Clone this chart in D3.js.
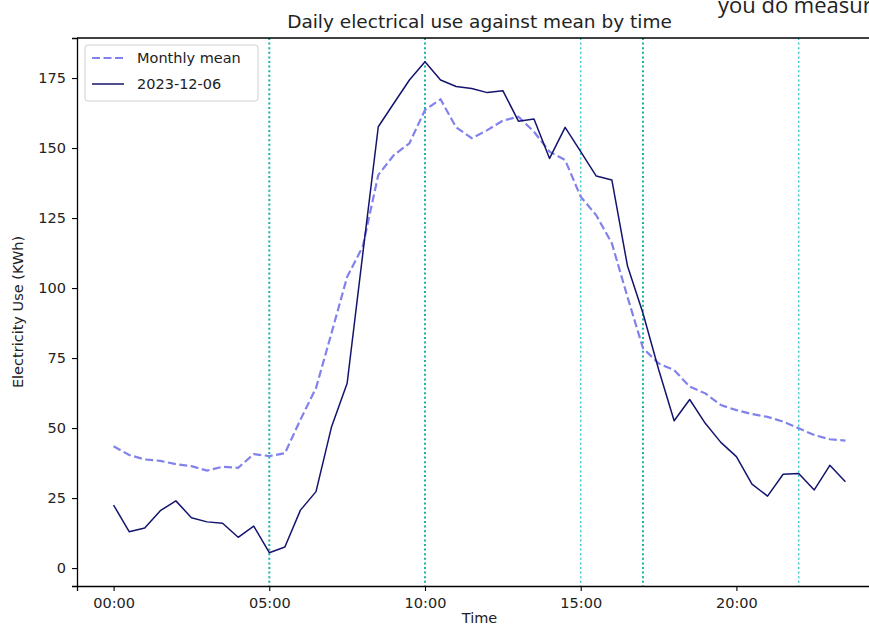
<!DOCTYPE html>
<html>
<head>
<meta charset="utf-8">
<script src="https://cdn.jsdelivr.net/npm/d3@7.9.0/dist/d3.min.js"></script>
<style>
  html, body { margin: 0; padding: 0; background: #fff; }
  svg { display: block; font-family: "DejaVu Sans", sans-serif; }
</style>
</head>
<body>
<svg id="chart" width="869" height="626"></svg>
<script>
// half-hourly readings, hours from midnight
const hours = d3.range(48).map(i => i / 2);

const monthlyMean = [
  43.5, 40.4, 38.8, 38.3, 37.1, 36.4, 34.8, 36.2, 35.8, 40.7, 40.0, 41.0,
  53.0, 64.3, 84.0, 104.0, 114.8, 140.4, 147.5, 151.7, 163.6, 167.4, 157.4, 153.5,
  156.4, 159.8, 161.2, 155.8, 148.7, 145.7, 132.6, 126.0, 116.0, 96.9, 78.5, 73.1,
  70.7, 64.8, 62.4, 58.2, 56.4, 55.0, 54.0, 52.3, 49.9, 47.5, 46.0, 45.5
];

const dayUse = [
  22.5, 13.0, 14.3, 20.5, 24.0, 18.0, 16.5, 16.0, 11.0, 15.0, 5.5, 7.5,
  20.7, 27.3, 50.5, 66.0, 112.0, 157.6, 166.0, 174.3, 180.8, 174.3, 172.0, 171.3,
  169.8, 170.5, 159.6, 160.4, 146.3, 157.4, 148.7, 140.0, 138.6, 108.0, 91.0, 71.0,
  52.6, 60.2, 51.7, 44.9, 39.8, 30.0, 25.7, 33.5, 33.8, 27.9, 36.7, 30.8
];

const markerHours = [5, 10, 15, 17, 22];
const strongMarkers = [5, 10, 17];

const xTicks = [0, 5, 10, 15, 20];
const yTicks = [0, 25, 50, 75, 100, 125, 150, 175];

const seriesNames = ["Monthly mean", "2023-12-06"];

const svg = d3.select("#chart");
const plotLeft = 77, plotRight = 882, plotTop = 38, plotBottom = 586;

const x = d3.scaleLinear().domain([-1.175, 24.675]).range([plotLeft, plotRight]);
const y = d3.scaleLinear().domain([-6.4, 189.3]).range([plotBottom, plotTop]);

// stray caption, cut off at the top and right edges as in the screenshot
svg.append("text")
  .attr("x", 718).attr("y", 13)
  .attr("font-family", "'Open Sans', sans-serif")
  .attr("font-size", 22).attr("fill", "#222")
  .text("you do measure");

const plot = svg.append("g");

// time markers
markerHours.forEach(h => {
  const strong = strongMarkers.includes(h);
  plot.append("line")
    .attr("x1", x(h)).attr("x2", x(h))
    .attr("y1", plotTop).attr("y2", plotBottom)
    .attr("stroke", strong ? "#19b3a6" : "#3cc8cc")
    .attr("stroke-width", strong ? 2 : 1.5)
    .attr("stroke-dasharray", "2,2.6");
});

const line = d3.line().x((d, i) => x(hours[i])).y(d => y(d));

plot.append("path")
  .attr("d", line(monthlyMean))
  .attr("fill", "none")
  .attr("stroke", "#8282ec")
  .attr("stroke-width", 2.2)
  .attr("stroke-dasharray", "8,3.5");

plot.append("path")
  .attr("d", line(dayUse))
  .attr("fill", "none")
  .attr("stroke", "#14146e")
  .attr("stroke-width", 1.5)
  .attr("stroke-linejoin", "round");

// axes
const fmt = h => String(h).padStart(2, "0") + ":00";
const xAxis = svg.append("g")
  .attr("transform", `translate(0,${plotBottom})`)
  .call(d3.axisBottom(x).tickValues(xTicks).tickFormat(fmt).tickSizeOuter(0).tickSize(5).tickPadding(7));
const yAxis = svg.append("g")
  .attr("transform", `translate(${plotLeft},0)`)
  .call(d3.axisLeft(y).tickValues(yTicks).tickSizeOuter(0).tickSize(5).tickPadding(6));

[xAxis, yAxis].forEach(a => {
  a.select(".domain").attr("stroke", "#000").attr("stroke-width", 1.3);
  a.selectAll(".tick line").attr("stroke", "#000").attr("stroke-width", 1.1);
  a.selectAll(".tick text")
    .attr("font-family", "DejaVu Sans, sans-serif")
    .attr("font-size", 14.5).attr("fill", "#222");
});

// top spine
svg.append("line")
  .attr("x1", plotLeft).attr("x2", plotRight).attr("y1", plotTop).attr("y2", plotTop)
  .attr("stroke", "#000").attr("stroke-width", 1.3);

// title and labels
svg.append("text")
  .attr("x", (plotLeft + plotRight) / 2).attr("y", 28)
  .attr("text-anchor", "middle").attr("font-size", 18.5)
  .attr("fill", "#222")
  .text("Daily electrical use against mean by time");

svg.append("text")
  .attr("x", (plotLeft + plotRight) / 2).attr("y", 623)
  .attr("text-anchor", "middle").attr("font-size", 14.5)
  .attr("fill", "#222")
  .text("Time");

svg.append("text")
  .attr("transform", `translate(23,${(plotTop + plotBottom) / 2}) rotate(-90)`)
  .attr("text-anchor", "middle").attr("font-size", 14.5)
  .attr("fill", "#222")
  .text("Electricity Use (KWh)");

// legend
const lg = svg.append("g").attr("transform", "translate(85,45)");
lg.append("rect")
  .attr("width", 173).attr("height", 56).attr("rx", 3)
  .attr("fill", "#fff").attr("fill-opacity", 0.8)
  .attr("stroke", "#d0d0d0");
seriesNames.forEach((name, i) => {
  const yy = 13 + i * 26;
  lg.append("line")
    .attr("x1", 7).attr("x2", 39).attr("y1", yy).attr("y2", yy)
    .attr("stroke", i === 0 ? "#8282ec" : "#14146e")
    .attr("stroke-width", i === 0 ? 2.2 : 1.5)
    .attr("stroke-dasharray", i === 0 ? "8,3.5" : null);
  lg.append("text")
    .attr("x", 52).attr("y", yy + 5)
    .attr("font-size", 14.5).attr("fill", "#222")
    .text(name);
});
</script>
</body>
</html>
